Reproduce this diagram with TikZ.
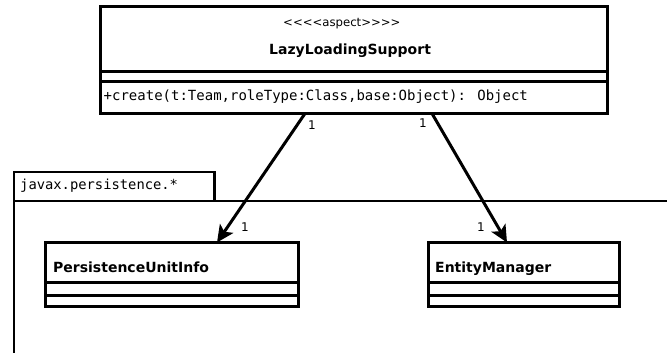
\documentclass[tikz,border=0pt]{standalone}
\usepackage{fontspec}
\setmainfont{DejaVu Sans}
\newfontfamily\monofont{DejaVu Sans Mono}
\usetikzlibrary{arrows.meta,calc}
\begin{document}
\begin{tikzpicture}[x=1pt,y=-1pt,
  classbox/.style={draw, line width=3pt, fill=white, rectangle, anchor=north west,
    inner sep=0pt, outer sep=0pt},
  compline/.style={line width=3pt},
  pkgline/.style={line width=2.7pt},
  classname/.style={font=\fontsize{14}{16}\selectfont\bfseries, anchor=base west, inner sep=0pt},
  stereo/.style={font=\fontsize{11.7}{14}\selectfont, anchor=base west, inner sep=0pt},
  member/.style={font=\fontsize{14}{16}\monofont, anchor=base west, inner sep=0pt},
  mult/.style={font=\fontsize{12}{14}\selectfont, inner sep=0pt},
  assoc/.style={line width=3pt, -{Stealth[length=17pt,width=16pt,inset=4pt]}}]
\useasboundingbox (0,0) rectangle (667,353);

% package javax.persistence.*
\node[draw, pkgline, rectangle, anchor=north west, inner sep=0pt, outer sep=0pt,
      minimum width=200.5pt, minimum height=29pt] (pkg) at (14,172) {};
\node[member, font=\fontsize{13.8}{16}\monofont] (pkgname) at (20,189) {javax.persistence.*};
\coordinate (pkgright) at (672,201);
\coordinate (pkgbottom) at (14,358);
\draw[pkgline] (pkgbottom) -- (pkg.south west) -- (pkgright);

% aspect class
\node[classbox, minimum width=506.5pt, minimum height=107pt] (lls) at (100.5,6.5) {};
\draw[compline] ($(lls.north west)+(0,65)$) -- ($(lls.north east)+(0,65)$);
\draw[compline] ($(lls.north west)+(0,75.5)$) -- ($(lls.north east)+(0,75.5)$);
\node[stereo] (llsst) at (283,26.5) {<\kern0pt<\kern0pt<\kern0pt<aspect>\kern0pt>\kern0pt>\kern0pt>};
\node[classname] (llsname) at (269,55) {LazyLoadingSupport};
\node[member] (llsop) at (103.5,100) {+create(t:Team,roleType:Class,base:Object): Object};

% PersistenceUnitInfo
\node[classbox, minimum width=253pt, minimum height=63.5pt] (pui) at (45,242.5) {};
\draw[compline] ($(pui.north west)+(0,40)$) -- ($(pui.north east)+(0,40)$);
\draw[compline] ($(pui.north west)+(0,52.5)$) -- ($(pui.north east)+(0,52.5)$);
\node[classname] (puiname) at (53,272) {PersistenceUnitInfo};

% EntityManager
\node[classbox, minimum width=191.5pt, minimum height=63.5pt] (em) at (428,242.5) {};
\draw[compline] ($(em.north west)+(0,40)$) -- ($(em.north east)+(0,40)$);
\draw[compline] ($(em.north west)+(0,52.5)$) -- ($(em.north east)+(0,52.5)$);
\node[classname] (emname) at (435,272) {EntityManager};

% associations
\coordinate (s1) at ($(lls.south west)+(204.5,0)$);
\coordinate (e1) at ($(pui.north west)+(172,0)$);
\coordinate (s2) at ($(lls.south west)+(331.5,0)$);
\coordinate (e2) at ($(em.north west)+(79,0)$);
\draw[assoc] (s1) -- (e1);
\draw[assoc] (s2) -- (e2);

\node[mult] (m1) at (312,125) {1};
\node[mult] (m2) at (245,227) {1};
\node[mult] (m3) at (423,123) {1};
\node[mult] (m4) at (481,227) {1};
\end{tikzpicture}
\end{document}
